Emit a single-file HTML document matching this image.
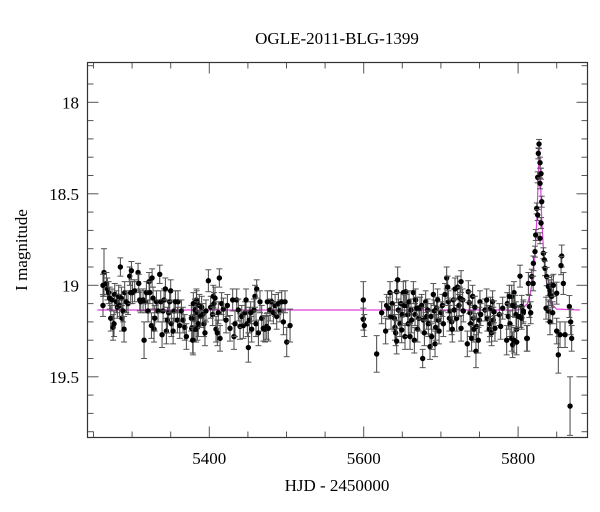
<!DOCTYPE html>
<html><head><meta charset="utf-8"><style>
html,body{margin:0;padding:0;background:#fff;}
svg{display:block;font-family:"Liberation Serif",serif;}
</style></head><body>
<svg id="chart" width="600" height="512" viewBox="0 0 600 512" xmlns="http://www.w3.org/2000/svg">
<rect x="0" y="0" width="600" height="512" fill="#fff"/>
<text x="337" y="44" text-anchor="middle" font-size="17" fill="#000">OGLE-2011-BLG-1399</text>
<text x="337" y="491" text-anchor="middle" font-size="17" fill="#000">HJD - 2450000</text>
<text transform="translate(27,250) rotate(-90)" text-anchor="middle" font-size="17" fill="#000">I magnitude</text>
<g id="ticks"></g>
<g id="model"></g>
<g id="points"></g>
<rect x="87.5" y="62.5" width="500" height="375" fill="none" stroke="#333" stroke-width="1.2"/>
</svg>
<script>
const hjd = [
5263.6,5262.3,5262.3,5266.7,5268,5269.7,5271,5272.3,5275.3,5276.6,5274,5277.5,5279.6,5280.9,5282.6,5283.9,5284.8,5286.1,5286.9,5288.3,5289.6,5290.4,5292.6,5294.7,5296.9,5298.2,5299.1,5300.4,5303.4,5307.7,5308.6,5309.9,5311.2,5314.2,5315.5,5317.2,5318.5,5320.7,5322,5322.9,5325,5325.9,5327.1,5328.4,5329.3,5331.5,5333.6,5335.8,5337.1,5338.8,5340.1,5341.4,5343.1,5344.4,5345.7,5347.4,5348.7,5350,5350.9,5353.1,5354.4,5356.1,5358.7,5359.5,5361.7,5363.9,5366,5368.2,5370.3,5376.8,5379,5380.3,5382,5383.3,5384.6,
5377.2,5378.5,5379.3,5380.2,5381.5,5382.8,5383.6,5384.5,5385.8,5387.1,5388.8,5390.1,5391.4,5393.1,5394.4,5395.7,5398.8,5401.8,5404.4,5405.2,5406.1,5407.4,5408.7,5410.4,5411.7,5413,5413.9,5416,5418.2,5421.7,5423.4,5426.8,5430.3,5432,5433.3,5435.5,5437.6,5439.8,5442,5444.1,5446.3,5447.6,5449.3,5450.6,5451.9,5453.6,5454.9,5457.9,5459.2,5460.5,5461.4,5463.6,5465.7,5467.9,5470,5472.2,5474.4,5475.2,5476.5,5478.7,5480.8,5483,5485.2,5487.3,5489.5,5491.6,5493.8,5496,5498.1,5500.3,5504.6,
5599.5,5599.5,5600.8,5616.8,5623.3,5628.4,5629.7,5631.9,5634.1,5635.4,5637.1,5639.7,5640.5,5641.4,5642.7,5642.7,5644,5644.9,5647,5648.3,5649.2,5650,5651.3,5652.6,5653.5,5654.4,5655.7,5657,5657.8,5658.7,5660,5661.3,5662.1,5664.3,5665.6,5666.5,5667.3,5668.6,5669.9,5671.6,5673,5675.1,5676.4,5677.3,5678.6,5680.3,5681.6,5682.9,5683.7,5685.9,5687.2,5688,5690.2,5691.5,5692.4,5693.2,5694.5,5695.8,5696.7,5697.6,5700.2,5701.9,5703.2,5705.3,5707.5,5708.8,5709.7,5711,5711.8,5714,5714.8,5716.1,5717.4,5718.3,5720.5,5721.7,5723.5,5724.8,5726.1,5726.1,
5728.2,5729,5734.2,5735.5,5736.8,5737.7,5738.5,5739.8,5741.1,5742,5742.8,5744.1,5745.4,5746.3,5748.5,5749.8,5750.6,5751.5,5757.1,5759.3,5760.1,5762.7,5763.6,5764.4,5765.7,5767,5767.9,5768.8,5770,5775.7,5777.4,5780,5785.2,5786,5787.3,5788.6,5789.5,5791.7,5792.9,5794.7,5796,5797.3,5798.1,5802.5,5803.3,5804.6,5806.8,5811.1,5813.3,
5827.1,5826.2,5828.4,5825.4,5829.7,5828.4,5830.6,5824.1,5825.4,5829.7,5822.8,5828.4,5821.9,5832.7,5819.8,5834,5817.7,5819.5,5834.9,5856.5,5855.6,5858.6,5837,5839.2,5843.5,5850,5841.4,
5791.7,5793,5794.7,5798.1,5800.3,5804.6,5806.8,5812,5814.6,5816.3,5841.3,5843.5,5845.7,5836.2,5839.2,5841.3,5844.8,5850,5852.1,5854.3,5860.8,5866.4,5868.1,5869.4,5867.3
];
const mag = [
18.93,19.00,19.11,18.99,19.02,19.04,19.07,19.18,19.23,19.21,19.08,19.05,19.09,19.12,19.06,19.11,18.90,19.07,19.18,19.14,19.24,19.04,19.09,19.10,18.95,19.04,18.92,19.04,19.03,18.93,18.99,19.08,19.09,19.08,19.30,19.09,19.04,19.14,18.98,19.04,19.22,18.96,19.07,19.24,19.18,19.09,19.14,18.94,19.09,19.27,19.14,19.08,19.02,19.25,19.19,19.15,19.09,19.03,19.21,19.25,19.14,19.09,19.19,19.09,19.22,19.14,19.19,19.23,19.28,19.18,19.30,19.24,19.14,19.08,19.23,
19.235,19.30,19.10,19.18,19.135,19.24,19.09,19.15,19.21,19.11,19.17,19.12,19.16,19.21,19.26,19.14,18.975,19.12,19.16,19.06,19.10,19.07,19.24,19.26,19.15,18.96,19.29,19.10,19.13,19.19,19.11,19.235,19.08,19.28,19.21,19.08,19.135,19.225,19.17,19.22,19.15,19.08,19.21,19.34,19.19,19.15,19.24,19.135,19.06,19.21,19.02,19.26,19.09,19.18,19.235,19.24,19.225,19.09,19.235,19.135,19.09,19.15,19.11,19.17,19.10,19.14,19.09,19.20,19.09,19.31,19.22,
19.08,19.185,19.22,19.375,19.15,19.25,19.11,19.125,19.04,19.17,19.10,19.18,19.23,19.26,19.035,19.305,18.97,19.135,19.21,19.10,19.244,19.16,19.04,19.11,19.28,19.035,19.11,19.16,19.21,19.09,19.28,19.135,19.19,19.04,19.30,19.16,19.08,19.125,19.24,19.18,19.125,19.11,19.40,19.19,19.26,19.09,19.17,19.135,19.21,19.335,19.17,19.28,19.05,19.14,19.32,19.23,19.125,19.08,19.19,19.25,19.15,19.11,19.21,19.05,18.96,19.01,19.09,19.18,19.14,19.20,19.24,19.08,19.135,19.02,19.18,19.01,19.11,19.07,18.98,19.235,
19.08,19.14,19.32,19.035,19.095,19.15,19.21,19.29,19.06,19.18,19.24,19.12,19.36,19.225,19.30,19.19,19.09,19.16,19.135,19.08,19.18,19.24,19.21,19.125,19.26,19.09,19.19,19.145,19.235,19.16,19.225,19.125,19.30,19.10,19.17,19.06,19.21,19.29,19.325,19.04,19.115,19.16,19.24,18.95,19.17,19.115,19.15,19.29,18.99,
18.228,18.279,18.33,18.41,18.39,18.443,18.543,18.58,18.616,18.66,18.725,18.743,18.816,18.825,18.88,18.861,18.952,18.99,18.907,18.84,18.892,18.99,18.952,19.007,18.998,19.043,19.05,
19.06,19.11,19.30,19.31,19.17,19.18,19.14,19.29,19.116,19.15,19.03,19.06,19.00,19.125,19.14,19.20,19.15,19.25,19.38,19.27,19.27,19.116,19.20,19.29,19.66
];
const err = [
0.13,0.06,0.06,0.06,0.06,0.06,0.06,0.07,0.07,0.07,0.06,0.06,0.06,0.06,0.06,0.06,0.05,0.06,0.07,0.06,0.07,0.06,0.06,0.06,0.05,0.06,0.05,0.06,0.06,0.05,0.05,0.06,0.06,0.06,0.1,0.06,0.06,0.06,0.05,0.06,0.07,0.05,0.06,0.07,0.07,0.06,0.06,0.05,0.06,0.07,0.06,0.06,0.06,0.07,0.07,0.06,0.06,0.06,0.07,0.07,0.06,0.06,0.07,0.06,0.07,0.06,0.07,0.07,0.07,0.07,0.08,0.07,0.06,0.06,0.07,
0.07,0.07,0.06,0.06,0.06,0.07,0.06,0.06,0.07,0.06,0.06,0.06,0.06,0.07,0.07,0.06,0.06,0.06,0.06,0.06,0.06,0.06,0.07,0.07,0.06,0.05,0.07,0.06,0.06,0.07,0.06,0.07,0.06,0.07,0.07,0.06,0.06,0.07,0.06,0.07,0.06,0.06,0.07,0.08,0.07,0.06,0.07,0.06,0.06,0.07,0.05,0.07,0.06,0.07,0.07,0.07,0.07,0.06,0.07,0.06,0.06,0.06,0.06,0.07,0.06,0.06,0.06,0.07,0.06,0.08,0.09,
0.1,0.06,0.06,0.1,0.06,0.07,0.06,0.06,0.06,0.07,0.06,0.07,0.07,0.07,0.06,0.07,0.07,0.06,0.07,0.06,0.07,0.06,0.06,0.06,0.07,0.06,0.06,0.06,0.07,0.06,0.07,0.06,0.07,0.06,0.07,0.06,0.06,0.06,0.07,0.07,0.06,0.06,0.05,0.07,0.07,0.06,0.07,0.06,0.07,0.07,0.07,0.07,0.06,0.06,0.07,0.07,0.06,0.06,0.07,0.07,0.06,0.06,0.07,0.06,0.06,0.06,0.06,0.07,0.06,0.07,0.07,0.06,0.06,0.06,0.07,0.06,0.06,0.06,0.06,0.07,
0.06,0.06,0.07,0.06,0.06,0.06,0.07,0.07,0.06,0.07,0.07,0.06,0.09,0.07,0.07,0.07,0.06,0.06,0.06,0.06,0.07,0.07,0.07,0.06,0.07,0.06,0.07,0.06,0.07,0.06,0.07,0.06,0.08,0.06,0.07,0.06,0.07,0.07,0.07,0.06,0.06,0.07,0.07,0.06,0.06,0.06,0.06,0.07,0.06,
0.025,0.03,0.03,0.03,0.03,0.03,0.03,0.03,0.03,0.03,0.03,0.03,0.03,0.03,0.04,0.04,0.04,0.04,0.04,0.06,0.05,0.06,0.05,0.05,0.05,0.06,0.06,
0.06,0.06,0.07,0.07,0.06,0.06,0.06,0.07,0.06,0.06,0.06,0.06,0.06,0.06,0.06,0.07,0.06,0.07,0.1,0.07,0.07,0.06,0.07,0.07,0.16
];
const modelT = [5255,5800,5805,5812,5816,5819,5822,5824.5,5826,5827.5,5829,5830.5,5833,5836,5839,5843,5850,5880];
const modelM = [19.135,19.135,19.13,19.10,19.04,18.96,18.82,18.62,18.42,18.22,18.42,18.62,18.82,18.96,19.04,19.10,19.13,19.135];
const xMajor = [5400,5600,5800];
const yMajor = [18,18.5,19,19.5];
const yLabels = ["18","18.5","19","19.5"];

const NS = "http://www.w3.org/2000/svg";
const X0 = 87.5, X1 = 587.5, Y0 = 62.5, Y1 = 437.5;
function xs(h){ return 209.3 + (h - 5400) * 0.772; }
function ys(m){ return 102.3 + (m - 18) * 183; }
function mk(tag, attrs, parent){
  const e = document.createElementNS(NS, tag);
  for (const k in attrs) e.setAttribute(k, attrs[k]);
  parent.appendChild(e);
  return e;
}
const tg = document.getElementById('ticks');
// x ticks
for (let v = 5250; v <= 5850; v += 50) {
  const x = xs(v);
  const major = xMajor.includes(v);
  const L = major ? 11 : 6;
  const t1 = mk('line', {x1:x, x2:x, y1:Y1, y2:Y1-L, stroke:'#555', 'stroke-width':1}, tg);
  
  
  const t2 = mk('line', {x1:x, x2:x, y1:Y0, y2:Y0+L, stroke:'#555', 'stroke-width':1}, tg);
  
  
}
xMajor.forEach(v => {
  const t = mk('text', {x:xs(v), y:464, 'text-anchor':'middle', 'font-size':17, fill:'#000'}, tg);
  t.textContent = String(v);
  
  
});
for (let i = 18; i <= 198; i++) {
  const v = i / 10;
  if (v < 17.8 || v > 19.85) continue;
  const y = ys(v);
  if (y < Y0 || y > Y1) continue;
  const major = (i % 5 === 0);
  const L = major ? 11 : 6;
  const t1 = mk('line', {x1:X0, x2:X0+L, y1:y, y2:y, stroke:'#555', 'stroke-width':1}, tg);
  
  
  const t2 = mk('line', {x1:X1, x2:X1-L, y1:y, y2:y, stroke:'#555', 'stroke-width':1}, tg);
  
  
}
yMajor.forEach((v, i) => {
  const t = mk('text', {x:79, y:ys(v)+6, 'text-anchor':'end', 'font-size':17, fill:'#000'}, tg);
  t.textContent = yLabels[i];
  
  
});
// model
const mg = document.getElementById('model');
const pts = modelT.map((t, i) => xs(t).toFixed(1) + ',' + ys(modelM[i]).toFixed(1)).join(' ');
const pl = mk('polyline', {points:pts, fill:'none', stroke:'#e040e0', 'stroke-width':1.2}, mg);


// points
const pg = document.getElementById('points');
for (let i = 0; i < hjd.length; i++) {
  const x = xs(hjd[i]), y = ys(mag[i]);
  const e = (err[i] !== undefined ? err[i] : 0.06) * 183;
  const g = mk('g', {}, pg);
  
  
  mk('line', {x1:x, x2:x, y1:y-e, y2:y+e, stroke:'#444', 'stroke-width':1}, g);
  mk('line', {x1:x-3, x2:x+3, y1:y-e, y2:y-e, stroke:'#555', 'stroke-width':1}, g);
  mk('line', {x1:x-3, x2:x+3, y1:y+e, y2:y+e, stroke:'#555', 'stroke-width':1}, g);
  mk('circle', {cx:x, cy:y, r:2.7, fill:'#000'}, g);
}
</script>
</body></html>
